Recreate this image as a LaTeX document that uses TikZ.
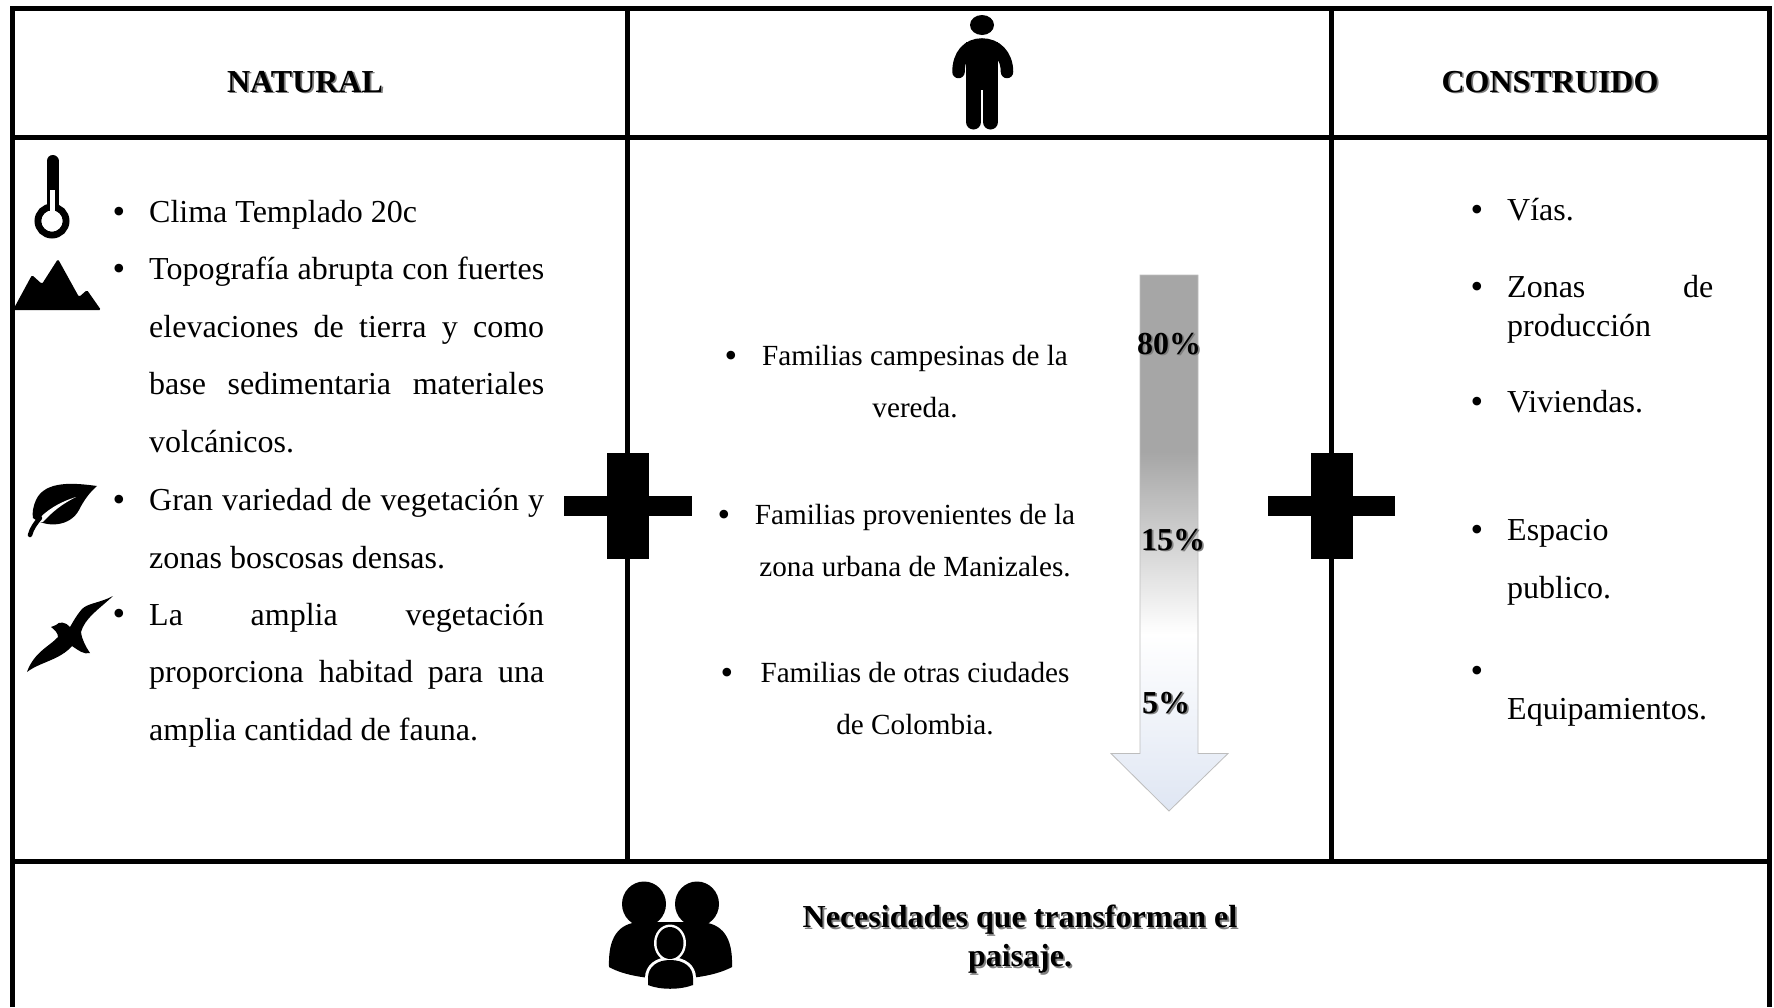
\documentclass[tikz,border=0pt]{standalone}
\usepackage{fontspec}
\setmainfont{Liberation Serif}
\definecolor{arrowtop}{HTML}{A6A6A6}
\definecolor{arrowlow}{HTML}{DFE6F3}
\definecolor{arrowedge}{HTML}{BDBDBD}
\pgfdeclareverticalshading{arrowfade}{100bp}{color(0bp)=(arrowlow); color(25bp)=(arrowlow); color(41.5bp)=(white); color(58.5bp)=(arrowtop); color(100bp)=(arrowtop)}
\newcommand{\shadowed}[1]{\rlap{\kern1.8pt\raisebox{-1.8pt}{\textcolor{black!50}{#1}}}#1}
\tikzset{
  gridline/.style={line width=5pt,black},
  leftitem/.style={anchor=north west,inner sep=0pt,text width=395pt,align=justify,font=\fontsize{32}{57.7}\selectfont},
  miditem/.style={anchor=north,inner sep=0pt,align=center,font=\fontsize{29.2}{52.7}\selectfont},
  rightitem/.style={anchor=north west,inner sep=0pt,text width=206pt,align=justify,font=\fontsize{32}{57.7}\selectfont},
  dot/.style={inner sep=0pt,font=\fontsize{36}{36}\selectfont},
  title/.style={inner sep=0pt,align=center,font=\fontsize{32}{39}\selectfont\bfseries},
}
\begin{document}
\begin{tikzpicture}[x=1pt,y=-1pt]
  \useasboundingbox (0,0) rectangle (1774,1007);
  % table
  \draw [gridline] (12,1007) -- (12,8) -- (1769,8) -- (1769,1007);
  \draw [gridline] (12,137) -- (1769,137);
  \draw [gridline] (12,861) -- (1769,861);
  \draw [gridline] (627,8) -- (627,861);
  \draw [gridline] (1331,8) -- (1331,861);
  % crosses
  \foreach \dx in {0,703.5} {
    \fill [black] (607+\dx,452.5) rectangle (649+\dx,559);
    \fill [black] (564+\dx,496) rectangle (691.5+\dx,516);
  }
  % headers
  \node [title] (natural) at (305,82.5) {\shadowed{NATURAL}};
  \node [title] (construido) at (1550,82.5) {\shadowed{CONSTRUIDO}};
  % person
  \fill [black] (982,25) ellipse (12 and 10);
  \draw [black, line width=12.5pt, line cap=round] (958.5,72) .. controls (958.5,55) and (968,44.5) .. (982,44.5) .. controls (996,44.5) and (1007,55) .. (1007,72);
  \fill [black] (966,42) rectangle (998,90);
  \draw [black, line width=15pt, line cap=round] (973.5,85) -- (973.5,122);
  \draw [black, line width=15pt, line cap=round] (990.5,85) -- (990.5,122);
  % thermometer
  \draw [black, line width=12pt, line cap=round] (52.5,161) -- (52.5,205);
  \draw [black, line width=7pt] (52,221) circle (14);
  \fill [white] (50,190) rectangle (55,214);
  \fill [white] (52,221) circle (10.5);
  % mountains
  \fill [black, rounded corners=1.5pt] (13,310) -- (32,275) -- (42,284) -- (58,259) -- (79,297) -- (87,290) -- (101,310) -- cycle;
  % leaf
  \fill [black] (97,486) .. controls (75,483) and (45,480) .. (36,500) .. controls (33,507) and (32,513) .. (33,518)
    .. controls (46,528) and (70,527) .. (79,510) .. controls (84,500) and (90,492) .. (97,486) -- cycle;
  \fill [white] (36,522) .. controls (46,510) and (60,502) .. (76,497) .. controls (62,504) and (52,512) .. (43,522) -- cycle;
  \draw [black, line width=4.5pt, line cap=round] (30,535) .. controls (32,528) and (35,524) .. (40,518);
  % bird
  \fill [black] (113,596) .. controls (100,603) and (88,603) .. (82,609) .. controls (76,616) and (73,622) .. (70,627)
    .. controls (66,622) and (59,621) .. (56,625) -- (51,627) .. controls (55,630) and (58,633) .. (58,637)
    .. controls (50,646) and (34,652) .. (27,672) .. controls (40,662) and (60,660) .. (72,646)
    .. controls (78,650) and (84,655) .. (90,653) .. controls (86,647) and (82,640) .. (81,632)
    .. controls (85,618) and (98,610) .. (113,596) -- cycle;
  % left column
  \node [dot] (bulletclima) at (119,215) {•};
  \node [dot] (bullettopo) at (119,272) {•};
  \node [dot] (bulletgran) at (119,503) {•};
  \node [dot] (bulletfauna) at (119,617) {•};
  \node [leftitem] (clima) at (149,182) {\strut Clima Templado 20c};
  \node [leftitem] (topo) at (149,239) {\strut Topografía abrupta con fuertes\linebreak elevaciones de tierra y como\linebreak base sedimentaria materiales\linebreak volcánicos.};
  \node [leftitem] (gran) at (149,470) {\strut Gran variedad de vegetación y\linebreak zonas boscosas densas.};
  \node [leftitem] (fauna) at (149,584.5) {\strut La amplia vegetación\linebreak proporciona habitad para una\linebreak amplia cantidad de fauna.};
  % middle column
  \node [dot] (bulletvereda) at (731,359) {•};
  \node [dot] (bulleturbana) at (724,518) {•};
  \node [dot] (bulletotras) at (727,676) {•};
  \node [miditem] (vereda) at (915,328) {\strut Familias campesinas de la\\vereda.};
  \node [miditem] (urbana) at (915,487) {\strut Familias provenientes de la\\zona urbana de Manizales.};
  \node [miditem] (otras) at (915,645) {\strut Familias de otras ciudades\\de Colombia.};
  % arrow
  \draw [arrowedge, line width=0.8pt, shading=arrowfade] (1140,275) -- (1198,275) -- (1198,753.5) -- (1228,753.5) -- (1169,811) -- (1111,753.5) -- (1140,753.5) -- cycle;
  \node [title] (ochenta) at (1169,344.5) {\shadowed{80\%}};
  \node [title] (quince) at (1173,540.5) {\shadowed{15\%}};
  \node [title] (cinco) at (1166,703.5) {\shadowed{5\%}};
  % right column
  \node [dot] (bulletvias) at (1477,213) {•};
  \node [dot] (bulletzonas) at (1477,290) {•};
  \node [dot] (bulletviviendas) at (1477,405) {•};
  \node [dot] (bulletespacio) at (1477,533) {•};
  \node [dot] (bulletequipo) at (1477,674) {•};
  \node [rightitem] (vias) at (1507,180) {\strut Vías.};
  \node [rightitem, font=\fontsize{32}{39}\selectfont] (zonas) at (1507,270) {\strut Zonas de\linebreak producción};
  \node [rightitem] (viviendas) at (1507,372) {\strut Viviendas.};
  \node [rightitem] (espacio) at (1507,500) {\strut Espacio\\publico.};
  \node [rightitem] (equipo) at (1507,679) {\strut Equipamientos.};
  % family
  \fill [black] (644,904) ellipse (22 and 22.5);
  \fill [black] (697,904) ellipse (22 and 22.5);
  \fill [black] (609,967) .. controls (608,938) and (618,923) .. (640,922) -- (700,922) .. controls (723,923) and (733,938) .. (732,967)
    .. controls (715,976) and (690,979) .. (670,979) .. controls (650,979) and (625,976) .. (609,967) -- cycle;
  \fill [white] (670,943) ellipse (16 and 18.5);
  \fill [white] (645,990) -- (645,978) .. controls (645,965) and (656,957) .. (670,957) .. controls (685,957) and (696,965) .. (696,978) -- (696,990) -- cycle;
  \fill [black] (670,943) ellipse (13.5 and 16);
  \fill [black] (648,985) -- (648,978) .. controls (648,967) and (657,960) .. (670,960) .. controls (684,960) and (693,967) .. (693,978) -- (693,985) .. controls (680,990) and (660,990) .. (648,985) -- cycle;
  % bottom text
  \node [title] (necesidades) at (1020,940) {\shadowed{Necesidades que transforman el}\\\shadowed{paisaje.}};
\end{tikzpicture}
\end{document}
